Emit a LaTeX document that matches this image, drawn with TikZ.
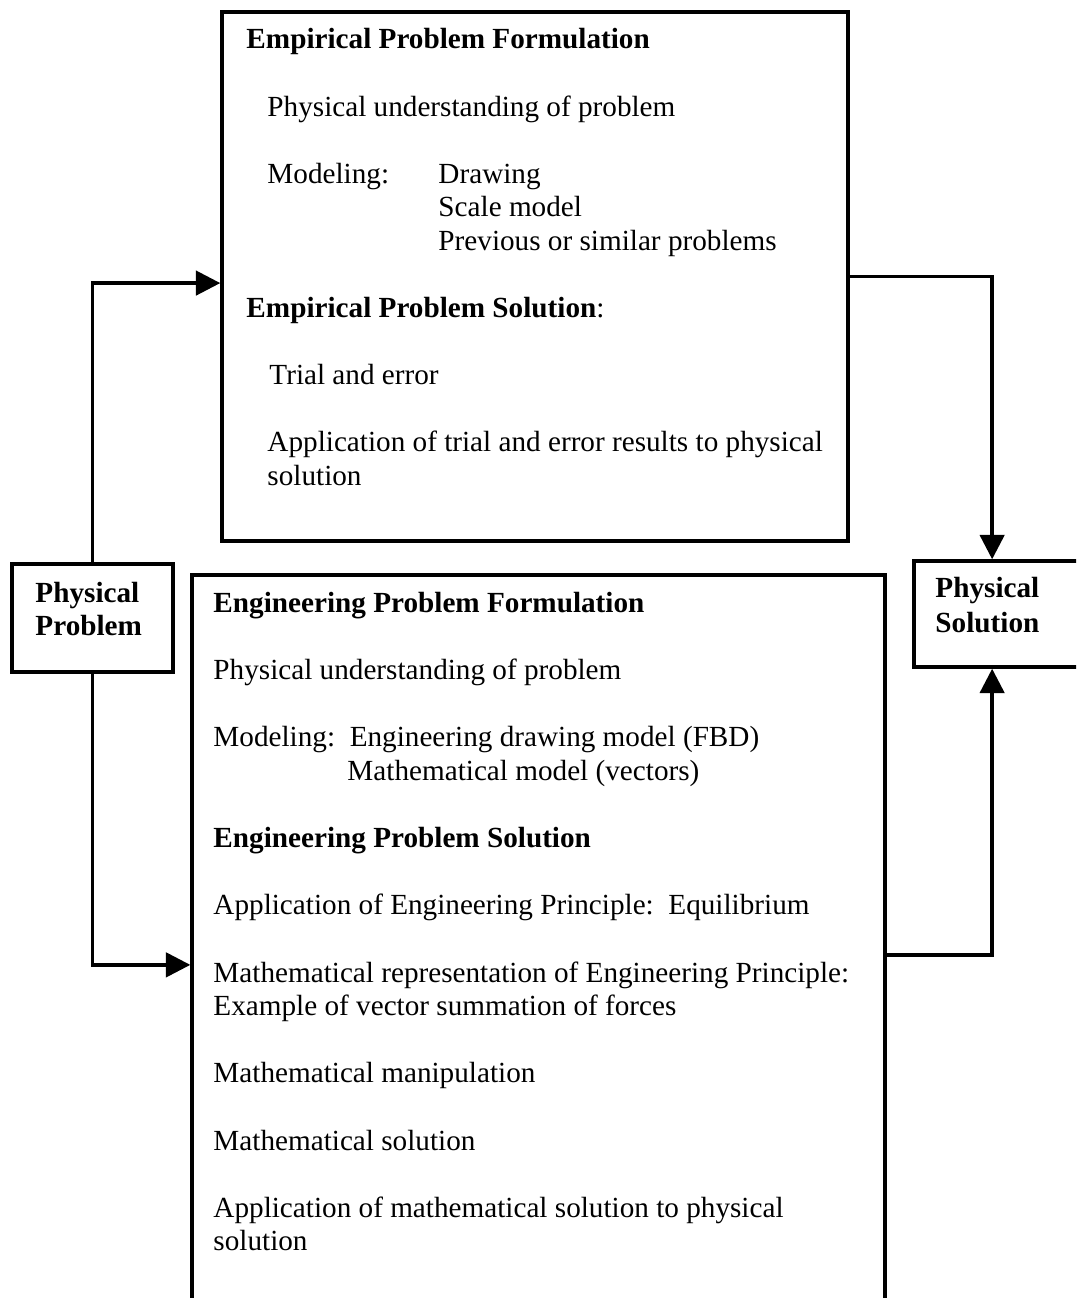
\documentclass[tikz,border=0pt]{standalone}
\usepackage{fontspec}
\setmainfont{Liberation Serif}
\usetikzlibrary{arrows.meta}

\begin{document}
\begin{tikzpicture}[x=0.411pt, y=-0.411pt,
    box/.style={draw, line width=1.4pt, inner sep=0pt},
    txt/.style={anchor=base west, inner sep=0pt, font=\fontsize{12pt}{14pt}\selectfont},
    bold/.style={txt, font=\fontsize{12pt}{14pt}\selectfont\bfseries},
    conn/.style={line width=1.4pt, -{Triangle[length=10pt, width=10pt]}}]
      \useasboundingbox (0,0) rectangle (1076,1298);
      \clip (0,0) rectangle (1076,1298);

      \node[box, minimum width=257.3pt, minimum height=217.4pt] (emp) at (535,276.5) {};
      \node[box, minimum width=66.2pt, minimum height=44.4pt] (pp) at (92.5,618) {};
      \node[box, minimum width=284.8pt, minimum height=316.5pt] (eng) at (538.5,960) {};
      \node[box, minimum width=68.2pt, minimum height=43.6pt] (ps) at (997,614) {};

      \draw[conn] (pp.north) |- ([yshift=-2.7pt]emp.west);
      \draw[conn] (emp.east) -| ([xshift=-2pt]ps.north);
      \draw[conn] (pp.south) |- ([yshift=-2pt]eng.west);
      \draw[conn] ([yshift=2pt]eng.east) -| ([xshift=-2pt]ps.south);

      \node[bold] (ppA) at (35,602) {Physical};
      \node[bold] (ppB) at (35,635) {Problem};
      \node[bold] (psA) at (935,597) {Physical};
      \node[bold] (psB) at (935,632) {Solution};

      \node[bold] (empForm) at (246,48) {Empirical Problem Formulation};
      \node[txt] (empUnd) at (267,116) {Physical understanding of problem};
      \node[txt] (empMod) at (267,183) {Modeling:};
      \node[txt] (empDraw) at (438,183) {Drawing};
      \node[txt] (empScale) at (438,216) {Scale model};
      \node[txt] (empPrev) at (438,250) {Previous or similar problems};
      \node[txt] (empSol) at (246,317) {{\bfseries Empirical Problem Solution}:};
      \node[txt] (empTrial) at (269,384) {Trial and error};
      \node[txt] (empAppA) at (267,451) {Application of trial and error results to physical};
      \node[txt] (empAppB) at (267,485) {solution};

      \node[bold] (engForm) at (213,612) {Engineering Problem Formulation};
      \node[txt] (engUnd) at (213,679) {Physical understanding of problem};
      \node[txt] (engMod) at (213,746) {Modeling:\ \ Engineering drawing model (FBD)};
      \node[txt] (engMath) at (347,780) {Mathematical model (vectors)};
      \node[bold] (engSol) at (213,847) {Engineering Problem Solution};
      \node[txt] (engPrin) at (213,914) {Application of Engineering Principle:\ \ Equilibrium};
      \node[txt] (engRepA) at (213,982) {Mathematical representation of Engineering Principle:};
      \node[txt] (engRepB) at (213,1015) {Example of vector summation of forces};
      \node[txt] (engMani) at (213,1082) {Mathematical manipulation};
      \node[txt] (engMsol) at (213,1150) {Mathematical solution};
      \node[txt] (engAppA) at (213,1217) {Application of mathematical solution to physical};
      \node[txt] (engAppB) at (213,1250) {solution};
    \end{tikzpicture}
\end{document}
